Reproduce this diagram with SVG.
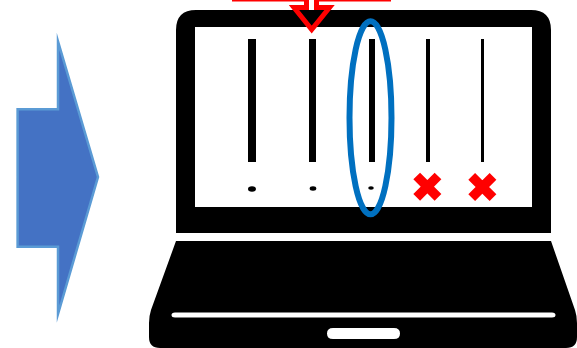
<svg xmlns="http://www.w3.org/2000/svg" width="577" height="348" viewBox="0 0 577 348">
<style>
.bar{fill:#000}
.x{fill:none;stroke:#f00;stroke-width:9.500}
</style>
<rect width="577" height="348" fill="#fff"/>
<g id="big-arrow"><path d="M17.600 109.300H58V41.500L98 177L58 314V246.700H17.600Z" fill="#4472c4" stroke="#5b9bd5" stroke-width="2.500" stroke-miterlimit="20"/></g>
<g id="laptop">
<path fill-rule="evenodd" d="M196 10H531Q551 10 551 30V233H176V30Q176 10 196 10ZM195 27V207H532V27Z" fill="#000"/>
<path fill-rule="evenodd" d="M176 241H551L575 310Q577 316 577 323V337Q577 348 566 348H160Q149 348 149 337V323Q149 316 151 310ZM175 312.500Q171.500 312.500 171.500 315Q171.500 317.500 175 317.500H552Q555.500 317.500 555.500 315Q555.500 312.500 552 312.500ZM333 328Q327 328 327 333.500Q327 339 333 339H394Q400 339 400 333.500Q400 328 394 328Z" fill="#000"/>
</g>
<g id="bars">
<rect class="bar" x="248" y="39" width="8" height="123"/>
<rect class="bar" x="309" y="39" width="7" height="123"/>
<rect class="bar" x="369" y="39" width="6" height="123"/>
<rect class="bar" x="426" y="39" width="4" height="123"/>
<rect class="bar" x="481" y="39" width="3" height="123"/>
<ellipse class="bar" cx="252" cy="189" rx="4" ry="2.700"/>
<ellipse class="bar" cx="313" cy="188.500" rx="3.300" ry="2.200"/>
<ellipse class="bar" cx="371" cy="188" rx="2.800" ry="1.800"/>
</g>
<g id="cross-1"><path class="x" d="M416.700 176L438 197.400M438 176L416.700 197.400"/></g>
<g id="cross-2"><path class="x" d="M471.700 176.300L493 197.700M493 176.300L471.700 197.700"/></g>
<g id="pointer">
<rect x="232" y="0" width="73" height="1.500" fill="#f00"/><rect x="318" y="0" width="73" height="1.500" fill="#f00"/>
<path d="M306.500 0V7.500H294L311.700 29.500L329.500 7.500H316.500V0" fill="none" stroke="#f00" stroke-width="5"/></g>
<g id="highlight"><ellipse cx="370.500" cy="117.800" rx="21" ry="96.500" fill="none" stroke="#0070c0" stroke-width="6"/></g>
</svg>
